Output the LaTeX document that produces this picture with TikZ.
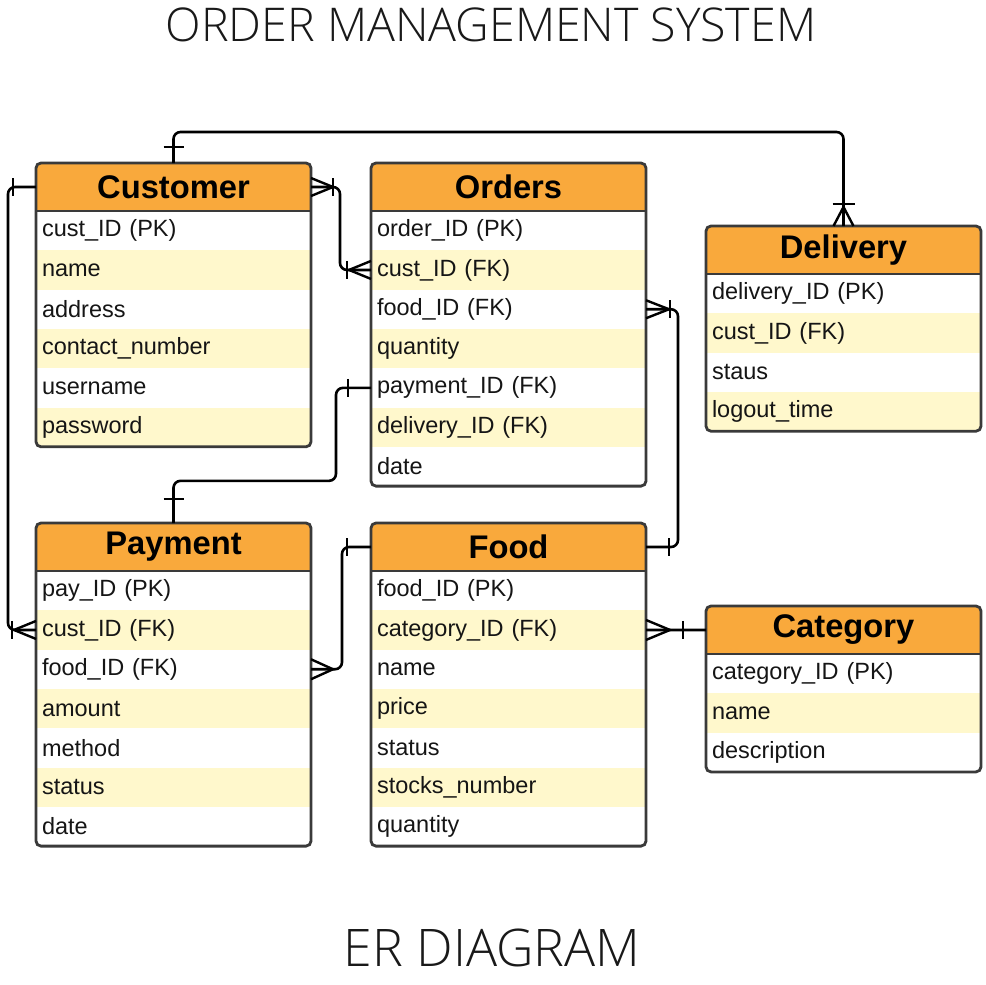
\documentclass[tikz,border=0pt]{standalone}
\usepackage{fontspec}
\setmainfont{Liberation Sans}
\newfontfamily\titlefont{Open Sans}[UprightFont=* Light]
\usetikzlibrary{calc}
\definecolor{hdrorange}{HTML}{F9A93C}
\definecolor{rowyellow}{HTML}{FFF8CC}
\definecolor{bordergray}{HTML}{3A3A3A}
\definecolor{inkc}{HTML}{151515}
\tikzset{
  hdr/.style={anchor=north west, minimum width=275, minimum height=48, fill=hdrorange,
    inner sep=0pt, outer sep=0pt, text=black, font=\fontsize{32.7}{38}\bfseries\selectfont},
  rowbox/.style={anchor=west, minimum width=275, minimum height=39.3, text width=263,
    inner xsep=6, inner ysep=0pt, outer sep=0pt, align=left, text=inkc,
    font=\fontsize{23.5}{27}\selectfont},
  tabborder/.style={draw=bordergray, line width=2.8pt, rounded corners=5pt},
  sepline/.style={draw=bordergray, line width=2.2pt},
  conn/.style={draw=black, line width=2.6pt, rounded corners=7pt},
  mk/.style={draw=black, line width=2.4pt},
  ttl/.style={font=\titlefont\fontsize{46.5}{53}\selectfont, text=black!90}
}
\newcommand{\ertab}[6]{%
  \pgfmathsetmacro\erbot{#3+48+#5*39.3}
  \begin{scope}
    \clip[rounded corners=5pt] (#2,#3) rectangle (#2+275,\erbot);
    \fill[white] (#2,#3) rectangle (#2+275,\erbot);
    \node[hdr] (#1-h) at (#2,#3) {#4};
    \foreach \t [count=\i] in {#6} {
      \ifodd\i\relax\def\rc{white}\else\def\rc{rowyellow}\fi
      \node[rowbox, fill=\rc] (#1-r\i) at (#2,#3+48+\i*39.3-19.65) {\t};
    }
  \end{scope}
  \draw[sepline] (#1-h.south west) -- (#1-h.south east);
  \draw[tabborder] (#2,#3) rectangle (#2+275,\erbot);
}
\begin{document}
\begin{tikzpicture}[x=1pt,y=-1pt]
\useasboundingbox (0,0) rectangle (986,985);
\fill[white] (0,0) rectangle (986,985);

\node[ttl] (title) at (491,25) {ORDER MANAGEMENT SYSTEM};
\node[ttl, font=\titlefont\fontsize{51.8}{58}\selectfont] (subtitle) at (492,948) {ER DIAGRAM};

\ertab{cust}{36}{163}{Customer}{6}{cust\_ID (PK),name,address,contact\_number,username,password}
\ertab{ord}{371}{163}{Orders}{7}{order\_ID (PK),cust\_ID (FK),food\_ID (FK),quantity,payment\_ID (FK),delivery\_ID (FK),date}
\ertab{del}{706}{226}{Delivery}{4}{delivery\_ID (PK),cust\_ID (FK),staus,logout\_time}
\ertab{pay}{36}{523}{Payment}{7}{pay\_ID (PK),cust\_ID (FK),food\_ID (FK),amount,method,status,date}
\ertab{food}{371}{523}{Food}{7}{food\_ID (PK),category\_ID (FK),name,price,status,stocks\_number,quantity}
\ertab{cat}{706}{606}{Category}{3}{category\_ID (PK),name,description}

% connectors
\draw[conn] (cust-h.north) -- ++(0,-31) -| (del-h.north);
\draw[conn] (cust-h.east) -- ++(29,0) |- (ord-r2.west);
\draw[conn] (cust-h.west) -- ++(-28,0) |- (pay-r2.west);
\draw[conn] (ord-r5.west) -- ++(-35,0) -- ++(0,93) -| (pay-h.north);
\draw[conn] (pay-r3.east) -- ++(31,0) |- (food-h.west);
\draw[conn] (ord-r3.east) -- ++(32,0) |- (food-h.east);
\draw[conn] (food-r2.east) -- (cat-h.west);

% marks
\draw[mk] ($(cust-h.north)+(-10,-16)$) -- ++(20,0);
\draw[mk] ($(del-h.north)+(-11,-22)$) -- ++(22,0);
\draw[mk] ($(del-h.north)+(-10,0)$) -- ($(del-h.north)+(0,-19)$) -- ($(del-h.north)+(10,0)$);
\draw[mk] ($(cust-h.east)+(0,-9)$) -- ($(cust-h.east)+(22,0)$) -- ($(cust-h.east)+(0,9)$);
\draw[mk] ($(cust-h.east)+(22,-9)$) -- ++(0,18);
\draw[mk] ($(ord-r2.west)+(0,-9)$) -- ($(ord-r2.west)+(-22,0)$) -- ($(ord-r2.west)+(0,9)$);
\draw[mk] ($(ord-r2.west)+(-24,-9)$) -- ++(0,18);
\draw[mk] ($(cust-h.west)+(-23,-9)$) -- ++(0,18);
\draw[mk] ($(pay-r2.west)+(0,-9)$) -- ($(pay-r2.west)+(-22,0)$) -- ($(pay-r2.west)+(0,9)$);
\draw[mk] ($(pay-r2.west)+(-24,-9)$) -- ++(0,18);
\draw[mk] ($(ord-r5.west)+(-23,-9)$) -- ++(0,18);
\draw[mk] ($(pay-h.north)+(-10,-24)$) -- ++(20,0);
\draw[mk] ($(pay-r3.east)+(0,-10)$) -- ($(pay-r3.east)+(22,0)$) -- ($(pay-r3.east)+(0,10)$);
\draw[mk] ($(food-h.west)+(-24,-9)$) -- ++(0,18);
\draw[mk] ($(ord-r3.east)+(0,-9)$) -- ($(ord-r3.east)+(23,0)$) -- ($(ord-r3.east)+(0,9)$);
\draw[mk] ($(ord-r3.east)+(24,-9)$) -- ++(0,18);
\draw[mk] ($(food-h.east)+(23,-9)$) -- ++(0,18);
\draw[mk] ($(food-r2.east)+(0,-10)$) -- ($(food-r2.east)+(24,0)$) -- ($(food-r2.east)+(0,10)$);
\draw[mk] ($(food-r2.east)+(37,-9)$) -- ++(0,18);
\end{tikzpicture}
\end{document}
